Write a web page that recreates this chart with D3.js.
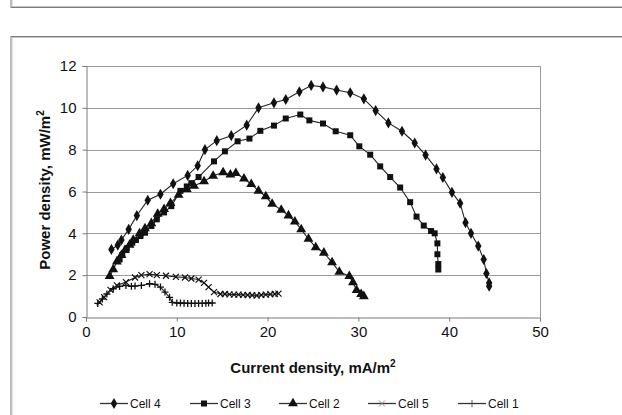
<!DOCTYPE html>
<html>
<head>
<meta charset="utf-8">
<script src="https://cdn.jsdelivr.net/npm/d3@7"></script>
<style>
  body { margin: 0; background: #fff; }
  text { font-family: "Liberation Sans", Arial, sans-serif; fill: #111; }
</style>
</head>
<body>
<div id="chart"></div>
<script>
// chart data
var cell4 = [[2.8,3.23],[3.5,3.44],[3.9,3.68],[4.7,4.19],[5.6,4.85],[6.8,5.58],[8.2,5.87],[9.6,6.37],[11.2,6.77],[12.3,7.23],[13.1,8.0],[14.4,8.43],[16.0,8.67],[17.7,9.17],[19.0,10.0],[20.7,10.24],[22.0,10.4],[23.5,10.77],[24.8,11.07],[26.1,11.0],[27.6,10.85],[29.1,10.72],[30.6,10.43],[31.9,9.87],[33.3,9.28],[34.8,8.88],[36.2,8.32],[37.4,7.74],[38.6,7.08],[39.3,6.67],[40.3,5.96],[41.2,5.44],[41.8,4.51],[42.4,4.0],[43.2,3.39],[43.8,2.75],[44.1,2.08],[44.4,1.63],[44.4,1.47]];
var cell3 = [[3.7,2.75],[4.0,2.96],[4.5,3.28],[5.1,3.55],[5.5,3.68],[6.0,3.87],[6.5,4.03],[7.2,4.35],[7.8,4.67],[8.6,5.0],[9.4,5.3],[10.4,6.03],[11.1,6.24],[11.6,6.4],[12.4,6.69],[14.1,7.44],[15.3,7.92],[16.7,8.4],[18.0,8.53],[19.2,8.9],[20.7,9.15],[22.0,9.49],[23.6,9.68],[24.6,9.4],[26.1,9.25],[27.5,8.88],[29.1,8.69],[30.1,8.16],[31.3,7.76],[32.4,7.2],[33.5,6.69],[34.6,6.19],[35.7,5.49],[36.4,4.8],[37.2,4.37],[38.0,4.11],[38.4,4.0],[38.7,3.52],[38.7,3.0],[38.8,2.53],[38.8,2.27]];
var cell2 = [[2.6,1.95],[3.0,2.27],[3.4,2.64],[3.9,2.96],[4.3,3.2],[4.8,3.45],[5.2,3.68],[5.9,4.0],[6.5,4.24],[7.2,4.48],[7.9,4.93],[8.6,5.15],[9.3,5.44],[10.2,5.84],[11.1,6.11],[11.9,6.27],[13.0,6.48],[14.0,6.75],[15.1,6.91],[15.9,6.8],[16.5,6.88],[17.4,6.61],[18.2,6.35],[19.0,6.03],[19.8,5.76],[20.5,5.41],[21.5,5.12],[22.3,4.85],[23.0,4.56],[23.7,4.19],[24.5,3.73],[25.3,3.33],[26.2,3.07],[27.1,2.61],[27.9,2.16],[29.0,1.95],[29.4,1.65],[29.8,1.28],[30.3,1.09],[30.6,0.99]];
var cell5 = [[1.5,0.7],[2.0,0.95],[2.7,1.3],[3.4,1.51],[4.4,1.67],[5.4,1.89],[6.1,2.0],[7.0,2.05],[7.8,2.0],[8.8,1.97],[9.9,1.92],[10.9,1.89],[11.6,1.84],[12.4,1.79],[13.0,1.63],[13.5,1.43],[14.1,1.19],[14.8,1.1],[15.3,1.1],[15.8,1.08],[16.3,1.07],[16.8,1.07],[17.3,1.06],[17.8,1.05],[18.3,1.04],[18.8,1.03],[19.3,1.05],[19.8,1.07],[20.3,1.09],[20.8,1.1],[21.2,1.12]];
var cell1 = [[1.3,0.65],[1.8,0.86],[2.3,1.1],[3.0,1.35],[3.7,1.46],[4.4,1.51],[5.0,1.47],[5.4,1.48],[6.1,1.51],[7.0,1.59],[7.6,1.56],[8.2,1.43],[8.7,1.19],[9.2,0.94],[9.5,0.7],[10.0,0.67],[10.4,0.67],[10.8,0.66],[11.2,0.65],[11.6,0.65],[12.0,0.65],[12.4,0.65],[12.8,0.65],[13.2,0.66],[13.5,0.67],[13.9,0.67]];

var seriesNames = ["Cell 4", "Cell 3", "Cell 2", "Cell 5", "Cell 1"];
var xTicks = [0, 10, 20, 30, 40, 50];
var yTicks = [0, 2, 4, 6, 8, 10, 12];

var W = 622, H = 415;
var margin = {top: 66, left: 86, right: 82, bottom: 98};
var pw = W - margin.left - margin.right,
    ph = H - margin.top - margin.bottom;

var svg = d3.select("#chart").append("svg")
    .attr("width", W).attr("height", H);

// frames (top box edge and chart area border)
function frame(y0, y1) {
  svg.append("rect").attr("x", 11).attr("y", y0).attr("width", 700).attr("height", y1 - y0)
    .attr("fill", "none").attr("stroke", "#7c7c7c").attr("stroke-width", 1);
  svg.append("rect").attr("x", 12).attr("y", y0 + 1).attr("width", 700).attr("height", y1 - y0 - 2)
    .attr("fill", "none").attr("stroke", "#c4c4c4").attr("stroke-width", 1);
}
frame(-20, 7.5);
frame(36.5, 480);

var x = d3.scaleLinear().domain([0, 50]).range([0, pw]);
var y = d3.scaleLinear().domain([0, 12]).range([ph, 0]);

var g = svg.append("g").attr("transform", "translate(" + margin.left + "," + margin.top + ")");

// gridlines
g.append("g").selectAll("line").data(yTicks.slice(1)).enter().append("line")
  .attr("x1", 0).attr("x2", pw)
  .attr("y1", function(d) { return Math.round(y(d)) + 0.5; })
  .attr("y2", function(d) { return Math.round(y(d)) + 0.5; })
  .attr("stroke", "#9a9a9a");
// right border of plot area
g.append("line").attr("x1", pw + 0.5).attr("x2", pw + 0.5).attr("y1", 0).attr("y2", ph)
  .attr("stroke", "#9a9a9a");

// axes
var xAxis = g.append("g").attr("transform", "translate(0," + (ph + 0.5) + ")")
  .call(d3.axisBottom(x).tickValues(xTicks).tickSize(4).tickPadding(5));
var yAxis = g.append("g").attr("transform", "translate(0.5,0)")
  .call(d3.axisLeft(y).tickValues(yTicks).tickSize(4).tickPadding(6));
[xAxis, yAxis].forEach(function(a) {
  a.attr("font-size", 15).attr("font-family", "Liberation Sans, Arial, sans-serif");
  a.select(".domain").attr("stroke", "#7a7a7a");
  a.selectAll(".tick line").attr("stroke", "#7a7a7a");
  a.selectAll(".tick text").attr("fill", "#111");
});

// axis titles
svg.append("text").attr("x", 313).attr("y", 373).attr("text-anchor", "middle")
  .style("font-size", "15px").style("font-weight", "bold")
  .html("Current density, mA/m<tspan dy='-6' font-size='10px'>2</tspan>");
svg.append("text").attr("transform", "translate(50,190) rotate(-90)").attr("text-anchor", "middle")
  .style("font-size", "15px").style("font-weight", "bold")
  .html("Power density, mW/m<tspan dy='-6' font-size='10px'>2</tspan>");

// markers
var shapes = {
  "Cell 4": d3.symbol().type(d3.symbolDiamond).size(36),
  "Cell 3": d3.symbol().type(d3.symbolSquare).size(36),
  "Cell 2": d3.symbol().type(d3.symbolTriangle).size(42)
};

var allSeries = [cell4, cell3, cell2, cell5, cell1];
var line = d3.line().x(function(d) { return x(d[0]); }).y(function(d) { return y(d[1]); });

function drawMarker(sel, name) {
  if (name === "Cell 1") {
    sel.append("path").attr("d", "M-3.5,0H3.5M0,-3.5V3.5").attr("stroke", "#111").attr("stroke-width", 1.3).attr("fill", "none");
  } else if (name === "Cell 5") {
    sel.append("path").attr("d", "M-3,-3L3,3M-3,3L3,-3").attr("stroke", "#111").attr("stroke-width", 1.2).attr("fill", "none");
  } else {
    sel.append("path").attr("d", shapes[name]()).attr("fill", "#111");
  }
}

allSeries.forEach(function(data, i) {
  var name = seriesNames[i];
  g.append("path").datum(data).attr("d", line)
    .attr("fill", "none").attr("stroke", "#222").attr("stroke-width", 1.1);
  g.append("g").selectAll("g").data(data).enter().append("g")
    .attr("transform", function(d) { return "translate(" + x(d[0]) + "," + y(d[1]) + ")"; })
    .each(function() { drawMarker(d3.select(this), name); });
});

// legend
var legendX = [100, 190, 279, 368, 458];
var leg = svg.append("g").attr("transform", "translate(0,403)");
seriesNames.forEach(function(name, i) {
  var it = leg.append("g").attr("transform", "translate(" + legendX[i] + ",0)");
  it.append("line").attr("x1", 0).attr("x2", 28).attr("y1", 0.5).attr("y2", 0.5)
    .attr("stroke", "#333").attr("stroke-width", 1.3);
  var m = it.append("g").attr("transform", "translate(14,0.5)");
  if (name === "Cell 5") {
    m.append("path").attr("d", "M-3,-3L3,3M-3,3L3,-3").attr("stroke", "#888").attr("stroke-width", 1).attr("fill", "none");
  } else if (name === "Cell 1") {
    m.append("path").attr("d", "M0,-3.5V3.5").attr("stroke", "#555").attr("stroke-width", 1).attr("fill", "none");
  } else {
    drawMarker(m, name);
  }
  it.append("text").attr("x", 30).attr("y", 4.5).style("font-size", "12px").text(name);
});
</script>
</body>
</html>
